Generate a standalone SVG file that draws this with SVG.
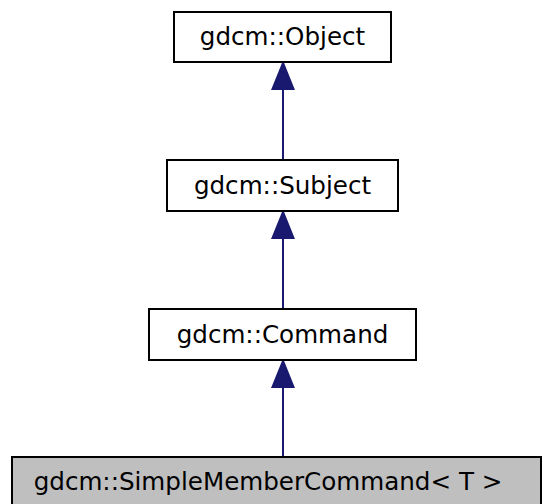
<svg xmlns="http://www.w3.org/2000/svg" width="543" height="504" viewBox="0 0 543 504">
<style>
.box{fill:#ffffff;stroke:#000000;stroke-width:2}
.cur{fill:#bfbfbf;stroke:#000000;stroke-width:2}
.lbl{font-family:"DejaVu Sans",sans-serif;font-size:24.6px;fill:#000000;text-anchor:middle}
.edge{stroke:#191970;stroke-width:2;fill:none}
.head{fill:#191970;stroke:#191970;stroke-width:2}
</style>
<rect width="543" height="504" fill="#ffffff"/>
<g id="connectors">
<line class="edge" x1="283" y1="160" x2="283" y2="88"/>
<polygon class="head" points="283,63 272.5,89 293.5,89"/>
<line class="edge" x1="283" y1="309" x2="283" y2="237"/>
<polygon class="head" points="283,212 272.5,238 293.5,238"/>
<line class="edge" x1="283" y1="457" x2="283" y2="386"/>
<polygon class="head" points="283,361 272.5,387 293.5,387"/>
</g>
<g id="node-object">
<rect class="box" x="174" y="12" width="217" height="50"/>
<text class="lbl" x="282.5" y="45">gdcm::Object</text>
</g>
<g id="node-subject">
<rect class="box" x="167" y="160" width="231" height="51"/>
<text class="lbl" x="282.5" y="193.5">gdcm::Subject</text>
</g>
<g id="node-command">
<rect class="box" x="149" y="309" width="267" height="51"/>
<text class="lbl" x="282.5" y="342.5">gdcm::Command</text>
</g>
<g id="node-simplemembercommand">
<rect class="cur" x="12" y="457" width="529" height="50"/>
<text class="lbl" x="268" y="490">gdcm::SimpleMemberCommand&lt; T &gt;</text>
</g>
</svg>
